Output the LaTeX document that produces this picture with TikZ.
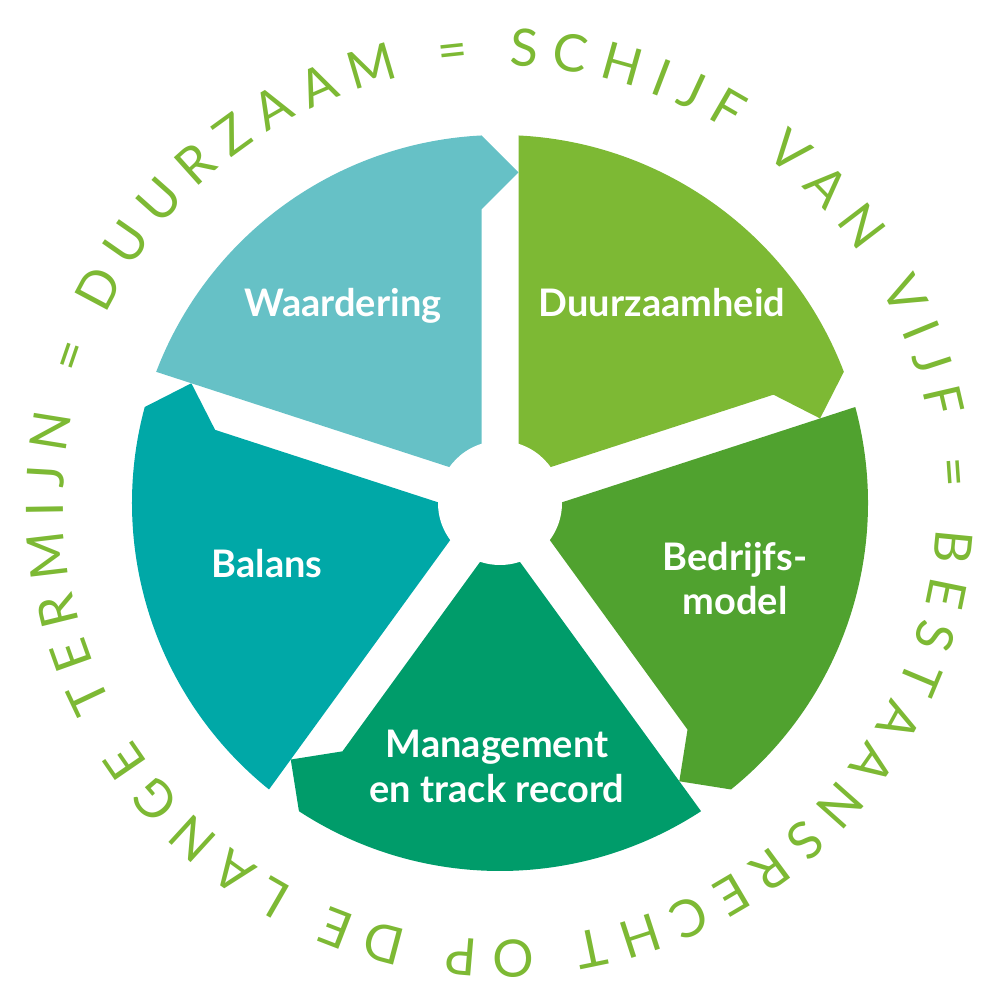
\documentclass[tikz,border=0pt]{standalone}
\usepackage{fontspec}
\setmainfont{Lato}
\usetikzlibrary{decorations.text, positioning, calc}

\definecolor{waarderingColor}{HTML}{66C1C6}
\definecolor{duurzaamColor}{HTML}{7DB934}
\definecolor{bedrijfColor}{HTML}{50A22F}
\definecolor{managementColor}{HTML}{009C6A}
\definecolor{balansColor}{HTML}{00A8A7}
\definecolor{ringColor}{HTML}{7DB934}
\newcommand{\ringFont}{\fontsize{14.7}{17}\selectfont}

\begin{document}
\begin{tikzpicture}[thick]
  % Define styles
  \tikzstyle{segLabel} = [text=white, font=\bfseries\fontsize{10.8}{12.8}\selectfont, align=center, anchor=base, inner sep=0pt]
  \pgfmathsetmacro{\R}{3.68}
  \pgfmathsetmacro{\g}{0.185}
  \pgfmathsetmacro{\d}{asin(\g/\R)}
  \pgfmathsetmacro{\tipOut}{sqrt(\R*\R-\g*\g)}
  \pgfmathsetmacro{\hubIn}{\g/tan(36)}

  \useasboundingbox (-5,-4.97) rectangle (5,5.03);

  % Draw segments
  \foreach \ang/\col in {18/duurzaamColor, -54/bedrijfColor, -126/managementColor, 162/balansColor, 90/waarderingColor}{
    \begin{scope}[rotate=\ang]
      \fill[\col] (\hubIn,\g) -- (72-\d:\R) arc[start angle=72-\d, end angle=\d, radius=\R]
        -- ({\tipOut-2*\g},-\g) -- ({\tipOut-4*\g},\g) -- cycle;
    \end{scope}
  }
  \fill[white] (0,0) circle (0.62);

  % Ring text
  \path[decorate, decoration={text along path, text color=ringColor, text align={fit to path},
    text={|\ringFont|DUURZAAM = SCHIJF VAN VIJF = BESTAANSRECHT OP DE LANGE TERMIJN =}}]
    (154.5:4.37) arc[start angle=154.5, end angle=-200.85, radius=4.37];

  % Place nodes
  \node[segLabel] (waardering) at (-1.57,1.86) {Waardering};
  \node[segLabel] (duurzaamheid) at (1.62,1.86) {Duurzaamheid};
  \node[segLabel] (bedrijfsmodel) at (2.35,-1.12) {Bedrijfs-\\model};
  \node[segLabel] (management) at (-0.03,-2.99) {Management\\en track record};
  \node[segLabel] (balans) at (-2.33,-0.75) {Balans};
\end{tikzpicture}
\end{document}
